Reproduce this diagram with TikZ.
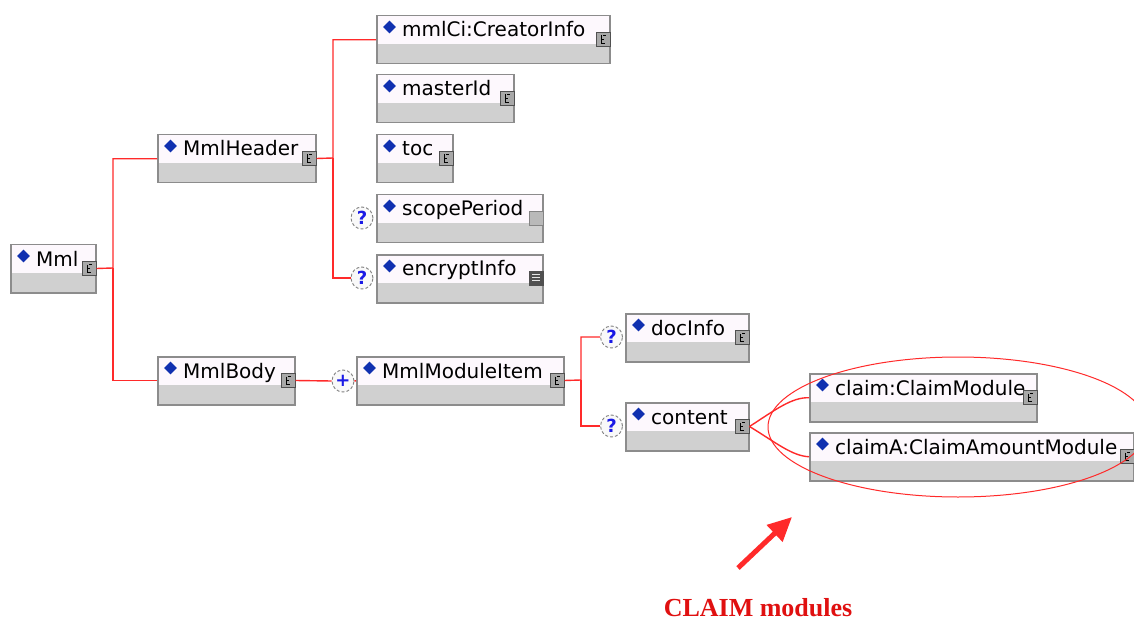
\documentclass[tikz,border=0pt]{standalone}
\usepackage{fontspec}
\setmainfont{DejaVu Sans}
\newfontfamily\capfont{Liberation Serif}
\usetikzlibrary{shapes.geometric,arrows.meta}
\definecolor{boxborder}{HTML}{8C8C8C}
\definecolor{boxtop}{HTML}{FDF8FD}
\definecolor{boxbot}{HTML}{D0D0D0}
\definecolor{linkred}{HTML}{FF2A2A}
\definecolor{dia}{HTML}{1030B0}
\definecolor{qblue}{HTML}{1A1AE6}
\definecolor{icongray}{HTML}{A8A8A8}
\definecolor{icondark}{HTML}{505050}
\definecolor{capred}{HTML}{E01010}
\tikzset{
  elbox/.style={draw=boxborder, line width=1.5pt, fill=boxtop, minimum height=48pt,
    inner sep=0pt, anchor=north west,
    path picture={\fill[boxbot] ([yshift=-28pt]path picture bounding box.north west)
      rectangle (path picture bounding box.south east);}},
  dmd/.style={diamond, fill=dia, minimum width=13pt, minimum height=13pt, inner sep=0pt},
  lbl/.style={anchor=base west, inner sep=0pt, font=\fontsize{20}{22}\selectfont},
  iconel/.style={rectangle, anchor=north east, minimum size=14pt, inner sep=0pt,
    fill=icongray, draw=icondark, line width=1pt,
    path picture={
      \draw[black, line width=0.8pt]
        ([xshift=5pt,yshift=-3pt]path picture bounding box.north west) -- ++(0,-8pt) -- ++(4pt,0);
      \draw[black, line width=0.8pt]
        ([xshift=5pt,yshift=-6.5pt]path picture bounding box.north west) -- ++(3pt,0);
      \draw[black, line width=0.8pt]
        ([xshift=7pt,yshift=-3pt]path picture bounding box.north west) -- ++(3pt,0);}},
  iconempty/.style={rectangle, anchor=north east, minimum size=14pt, inner sep=0pt,
    fill=icongray!80, draw=icondark!70, line width=1pt},
  iconlist/.style={rectangle, anchor=north east, minimum size=14pt, inner sep=0pt,
    fill=icondark, draw=icondark, line width=1pt,
    path picture={
      \foreach \k in {3,6,9}
        \draw[white!80!gray, line width=0.8pt]
          ([xshift=3pt,yshift=-\k pt]path picture bounding box.north west) -- ++(8pt,0);}},
  qcirc/.style={circle, draw=gray, densely dashed, line width=0.9pt, fill=white!95!gray,
    minimum size=22pt, inner sep=0pt, text=qblue, font=\bfseries\fontsize{18}{18}\selectfont},
  linkline/.style={draw=linkred, line width=1.4pt},
  bigarrow/.style={draw=linkred, line width=5pt, -{Triangle[length=24pt,width=22pt]}},
  captext/.style={anchor=base, inner sep=0pt, text=capred, font=\capfont\bfseries\fontsize{26}{28}\selectfont}
}
\newcommand\elem[6]{%
  \node[elbox, minimum width=#4pt] (#1) at (#2,#3) {};
  \node[dmd] (#1-d) at ([xshift=13.5pt,yshift=-12pt]#1.north west) {};
  \node[lbl] (#1-t) at ([xshift=26pt,yshift=-22pt]#1.north west) {#5};
  \node[#6] (#1-i) at ([yshift=-17pt]#1.north east) {};
}
\begin{document}
\begin{tikzpicture}[x=1pt,y=-1pt]
\useasboundingbox[fill=white] (0,0) rectangle (1134,620);
% boxes
\elem{mml}{10}{244}{85}{Mml}{iconel}
\elem{hdr}{157}{134}{158}{MmlHeader}{iconel}
\elem{body}{157}{356}{137}{MmlBody}{iconel}
\elem{ci}{376}{15}{233}{mmlCi:CreatorInfo}{iconel}
\elem{mid}{376}{74}{137}{masterId}{iconel}
\elem{toc}{376}{134}{76}{toc}{iconel}
\elem{scp}{376}{194}{166}{scopePeriod}{iconempty}
\elem{enc}{376}{254}{166}{encryptInfo}{iconlist}
\elem{item}{356}{356}{207}{MmlModuleItem}{iconel}
\elem{doc}{625}{313}{123}{docInfo}{iconel}
\elem{con}{625}{402}{123}{content}{iconel}
\elem{clm}{809}{373}{227}{claim:ClaimModule}{iconel}
\elem{clma}{809}{432}{324}{claimA:ClaimAmountModule}{iconel}
% compositor circles
\node[qcirc] (scpQ) at (362,218) {?};
\node[qcirc] (encQ) at (362,278) {?};
\node[qcirc] (plus) at (343,381) {+};
\node[qcirc] (docQ) at (611.5,337) {?};
\node[qcirc] (conQ) at (611.5,426) {?};
% connectors
\coordinate (j1) at (113,268);
\draw[linkline] (mml-i.east) -- (j1) |- (hdr.west);
\draw[linkline] (j1) |- (body.west);
\coordinate (j2) at (333,158);
\draw[linkline] (hdr-i.east) -- (j2) |- (ci.west);
\draw[linkline] (j2) |- (encQ.west);
\draw[linkline] (body-i.east) -- (plus.west);
\draw[linkline] (plus.east) -- (item.west);
\coordinate (j3) at (581,380);
\draw[linkline] (item-i.east) -- (j3) |- (docQ.west);
\draw[linkline] (j3) |- (conQ.west);
\draw[linkline] (con-i.east) .. controls (775,410) and (792,397) .. (clm.west);
\draw[linkline] (con-i.east) .. controls (775,442) and (792,456) .. (clma.west);
% annotation
\node[ellipse, draw=linkred, line width=1pt, minimum width=380pt, minimum height=140pt] (oval) at (958,427) {};
\coordinate (atail) at (738,568);
\coordinate (ahead) at (792,517);
\draw[bigarrow] (atail) -- (ahead);
\node[captext] (capt) at (758,616) {CLAIM modules};
\end{tikzpicture}
\end{document}
